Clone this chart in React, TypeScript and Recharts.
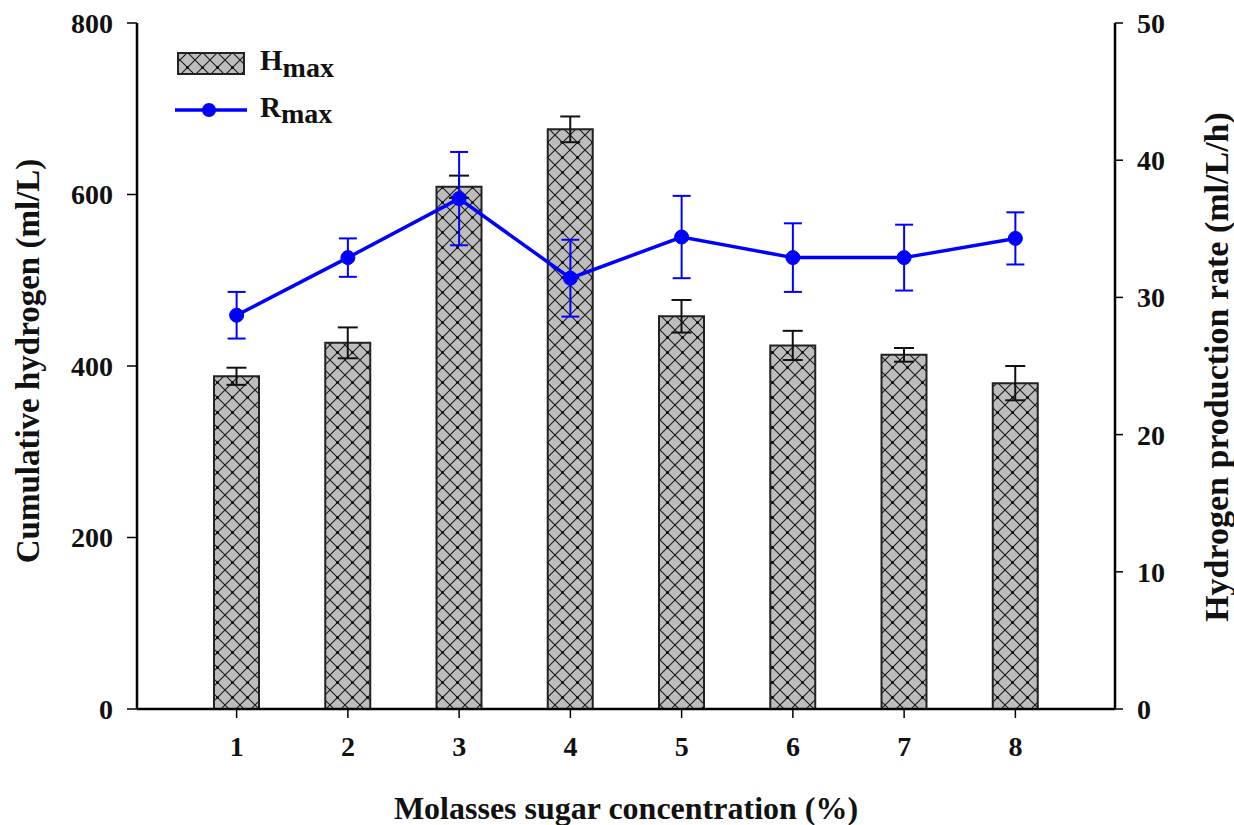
import React from 'react';
import { ComposedChart, Bar, Line, XAxis, YAxis, ErrorBar } from 'recharts';

const categories = ['1', '2', '3', '4', '5', '6', '7', '8'];
const hmaxValues = [388, 427, 609, 676, 458, 424, 413, 380];
const hmaxErrors = [10, 18, 13, 15, 19, 17, 8, 20];
const rmaxValues = [28.7, 32.9, 37.2, 31.4, 34.4, 32.9, 32.9, 34.3];
const rmaxErrors = [1.7, 1.4, 3.4, 2.8, 3.0, 2.5, 2.4, 1.9];
const leftTicks = [0, 200, 400, 600, 800];
const rightTicks = [0, 10, 20, 30, 40, 50];

const data = categories.map((c, i) => ({
  conc: c,
  hmax: hmaxValues[i],
  hErr: hmaxErrors[i],
  rmax: rmaxValues[i],
  rErr: rmaxErrors[i],
}));

const FONT = '"Liberation Serif", "Times New Roman", serif';
const tickStyle = { fontFamily: FONT, fontWeight: 700, fontSize: 28, fill: '#111' };
const titleStyle = { fontFamily: FONT, fontWeight: 700, fill: '#111' };

const LegendOverlay = () => (
  <svg width={400} height={150} style={{ position: 'absolute', left: 0, top: 0 }}>
    <rect x={178} y={53} width={66} height={21} fill="url(#crosshatch)" stroke="#222" strokeWidth={2} />
    <text x={260} y={70} style={{ ...titleStyle, fontSize: 29 }}>
      H<tspan dy={7} style={{ fontSize: 28 }}>max</tspan>
    </text>
    <line x1={175} y1={110} x2={247} y2={110} stroke="#0000ff" strokeWidth={3.5} />
    <circle cx={209} cy={110} r={7} fill="#0000ff" />
    <text x={260} y={117} style={{ ...titleStyle, fontSize: 29 }}>
      R<tspan dy={6} style={{ fontSize: 28 }}>max</tspan>
    </text>
  </svg>
);

const LeftLabel = (props: any) => {
  const vb = props.viewBox;
  const x = vb.x + 28;
  const y = vb.y + vb.height / 2 - 5;
  return (
    <text x={x} y={y} transform={`rotate(-90, ${x}, ${y})`} textAnchor="middle" dominantBaseline="central"
      style={{ ...titleStyle, fontSize: 33 }}>
      Cumulative hydrogen (ml/L)
    </text>
  );
};

const RightLabel = (props: any) => {
  const vb = props.viewBox;
  const x = vb.x + 101;
  const y = vb.y + vb.height / 2 + 1;
  return (
    <text x={x} y={y} transform={`rotate(-90, ${x}, ${y})`} textAnchor="middle" dominantBaseline="central"
      style={{ ...titleStyle, fontSize: 34 }}>
      Hydrogen production rate (ml/L/h)
    </text>
  );
};

const BottomLabel = (props: any) => {
  const vb = props.viewBox;
  const x = vb.x + vb.width / 2;
  const y = vb.y + 110;
  return (
    <text x={x} y={y} textAnchor="middle" style={{ ...titleStyle, fontSize: 32 }}>
      Molasses sugar concentration (%)
    </text>
  );
};

export default function App() {
  return (
    <div style={{ position: 'absolute', left: 0, top: 0, width: 1234, height: 825, background: '#fff' }}>
      <svg width={0} height={0} style={{ position: 'absolute' }}>
        <defs>
          <pattern id="crosshatch" patternUnits="userSpaceOnUse" width={15} height={15}>
            <rect x={0} y={0} width={15} height={15} fill="#bdbdbd" />
            <path d="M0,0 L15,15 M15,0 L0,15" stroke="#1a1a1a" strokeWidth={1.1} />
            <circle cx={7.5} cy={7.5} r={1.3} fill="#000" />
          </pattern>
        </defs>
      </svg>
      <ComposedChart width={1234} height={825} data={data} margin={{ top: 23, right: 0, bottom: 0, left: 0 }}>
        <XAxis dataKey="conc" padding={{ left: 44, right: 44 }} height={116}
          tick={tickStyle} tickSize={9} tickMargin={18}
          axisLine={{ stroke: '#000', strokeWidth: 2.5 }} tickLine={{ stroke: '#000', strokeWidth: 1.5 }}
          label={<BottomLabel />} />
        <YAxis yAxisId="left" orientation="left" width={137} domain={[0, 800]} ticks={leftTicks}
          tick={tickStyle} tickSize={10} tickMargin={14}
          axisLine={{ stroke: '#000', strokeWidth: 2.5 }} tickLine={{ stroke: '#000', strokeWidth: 1.5 }}
          label={<LeftLabel />} />
        <YAxis yAxisId="right" orientation="right" width={119} domain={[0, 50]} ticks={rightTicks}
          tick={tickStyle} tickSize={8} tickMargin={14}
          axisLine={{ stroke: '#000', strokeWidth: 2.5 }} tickLine={{ stroke: '#000', strokeWidth: 1.5 }}
          label={<RightLabel />} />
        <Bar yAxisId="left" dataKey="hmax" name="Hmax" barSize={45} fill="url(#crosshatch)"
          stroke="#222" strokeWidth={2} isAnimationActive={false}>
          <ErrorBar dataKey="hErr" width={10} stroke="#111" strokeWidth={2} />
        </Bar>
        <Line yAxisId="right" dataKey="rmax" name="Rmax" type="linear" stroke="#0000ff" strokeWidth={3.5}
          dot={{ r: 7, fill: '#0000ff', stroke: '#0000ff', strokeWidth: 1 }} activeDot={false}
          isAnimationActive={false}>
          <ErrorBar dataKey="rErr" width={9} stroke="#0000ff" strokeWidth={2} />
        </Line>
      </ComposedChart>
      <LegendOverlay />
    </div>
  );
}
